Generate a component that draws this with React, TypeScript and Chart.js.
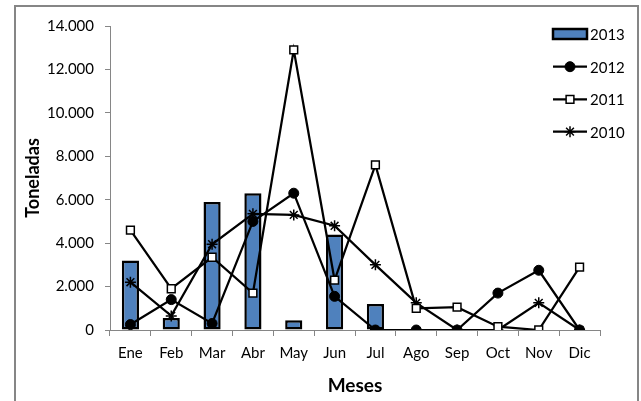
import { useEffect, useRef } from 'react';
import { Chart, registerables } from 'chart.js';
import { drawPoint } from 'chart.js/helpers';

Chart.register(...registerables);

const months = ['Ene', 'Feb', 'Mar', 'Abr', 'May', 'Jun', 'Jul', 'Ago', 'Sep', 'Oct', 'Nov', 'Dic'];
const values2013 = [3200, 550, 5900, 6300, 450, 4400, 1200, 0, 0, 0, 0, 0];
const values2012 = [250, 1400, 300, 5000, 6300, 1550, 0, 0, 0, 1700, 2750, 0];
const values2011 = [4600, 1900, 3350, 1700, 12900, 2300, 7600, 1000, 1050, 150, 0, 2900];
const values2010 = [2200, 650, 3950, 5350, 5300, 4800, 3000, 1250, 0, 0, 1250, 0];

const FONT = "Lato, 'Open Sans', sans-serif";

const fmt = (v: number) => String(v).replace(/\B(?=(\d{3})+(?!\d))/g, '.');

// outer frame + legend drawn by hand, Excel style
const frameLegend = {
  id: 'frameLegend',
  afterDraw(chart: Chart) {
    const ctx = chart.ctx;
    ctx.save();
    ctx.strokeStyle = '#868686';
    ctx.lineWidth = 2;
    ctx.beginPath();
    ctx.moveTo(15, 401);
    ctx.lineTo(15, 6);
    ctx.lineTo(638, 6);
    ctx.lineTo(638, 401);
    ctx.stroke();

    const rows = [34, 66.7, 99.3, 131.7];
    const x0 = 553;
    const x1 = 587;
    chart.data.datasets.forEach((ds: any, i: number) => {
      const y = rows[i];
      if (ds.type === 'bar') {
        ctx.fillStyle = ds.backgroundColor;
        ctx.fillRect(x0, y - 5, x1 - x0, 10);
        ctx.strokeStyle = '#000';
        ctx.lineWidth = 2.5;
        ctx.strokeRect(x0, y - 5, x1 - x0, 10);
      } else {
        ctx.strokeStyle = '#000';
        ctx.lineWidth = ds.borderWidth;
        ctx.beginPath();
        ctx.moveTo(x0, y);
        ctx.lineTo(x1, y);
        ctx.stroke();
        ctx.fillStyle = ds.pointBackgroundColor;
        ctx.lineWidth = ds.pointBorderWidth;
        drawPoint(ctx, { pointStyle: ds.pointStyle, radius: ds.pointRadius, rotation: 0, borderWidth: ds.pointBorderWidth }, 570, y);
      }
      ctx.fillStyle = '#000';
      ctx.font = `15px ${FONT}`;
      ctx.textAlign = 'left';
      ctx.textBaseline = 'middle';
      ctx.fillText(ds.label, 590, y + 1);
    });
    ctx.restore();
  },
};

export default function App() {
  const chartRef = useRef<HTMLCanvasElement>(null);
  const chartInstance = useRef<Chart | null>(null);

  useEffect(() => {
    if (!chartRef.current) return;
    if (chartInstance.current) chartInstance.current.destroy();

    const ctx = chartRef.current.getContext('2d');
    if (!ctx) return;

    const lineBase = {
      type: 'line' as const,
      borderColor: '#000',
      borderWidth: 2.25,
      pointBorderColor: '#000',
      tension: 0,
      order: 1,
    };

    chartInstance.current = new Chart(ctx, {
      data: {
        labels: months,
        datasets: [
          {
            type: 'bar',
            label: '2013',
            data: values2013,
            backgroundColor: '#4F81BD',
            borderColor: '#000',
            borderWidth: 2.5,
            borderSkipped: false,
            barPercentage: 0.42,
            categoryPercentage: 1,
            order: 10,
          },
          {
            ...lineBase,
            label: '2012',
            data: values2012,
            pointStyle: 'circle',
            pointRadius: 5,
            pointBackgroundColor: '#000',
            pointBorderWidth: 1,
          },
          {
            ...lineBase,
            label: '2011',
            data: values2011,
            pointStyle: 'rect',
            pointRadius: 5.5,
            pointBackgroundColor: '#fff',
            pointBorderWidth: 1.5,
          },
          {
            ...lineBase,
            label: '2010',
            data: values2010,
            pointStyle: 'star',
            pointRadius: 5.5,
            pointBackgroundColor: '#000',
            pointBorderWidth: 1.5,
          },
        ] as any,
      },
      options: {
        responsive: false,
        animation: false,
        layout: { padding: { left: 15, right: 41, top: 26, bottom: 0 } },
        plugins: {
          legend: { display: false },
          tooltip: { enabled: false },
        },
        scales: {
          x: {
            afterFit: (s: any) => {
              s.height = 71;
            },
            border: { color: '#868686', width: 1 },
            grid: { drawOnChartArea: false, offset: true, tickLength: 6, color: '#868686' },
            ticks: { color: '#000', font: { family: FONT, size: 15 }, padding: 8 },
            title: {
              display: true,
              text: 'Meses',
              color: '#000',
              font: { family: FONT, size: 19, weight: 'bold' },
              padding: { top: 0, bottom: 4 },
            },
          },
          y: {
            min: 0,
            max: 14000,
            afterFit: (s: any) => {
              s.width = 95;
            },
            border: { color: '#868686', width: 1 },
            grid: { drawOnChartArea: false, tickLength: 5, color: '#868686' },
            ticks: {
              stepSize: 2000,
              color: '#000',
              font: { family: FONT, size: 15 },
              padding: 11,
              callback: (v: any) => fmt(Number(v)),
            },
            title: {
              display: true,
              text: 'Toneladas',
              color: '#000',
              font: { family: FONT, size: 18, weight: 'bold' },
              padding: { top: 7, bottom: 0 },
            },
          },
        },
      },
      plugins: [frameLegend],
    });

    return () => {
      if (chartInstance.current) {
        chartInstance.current.destroy();
        chartInstance.current = null;
      }
    };
  }, []);

  return (
    <div style={{ position: 'absolute', left: 0, top: 0, width: 641, height: 401, background: '#fff' }}>
      <canvas ref={chartRef} width={641} height={401} />
    </div>
  );
}
